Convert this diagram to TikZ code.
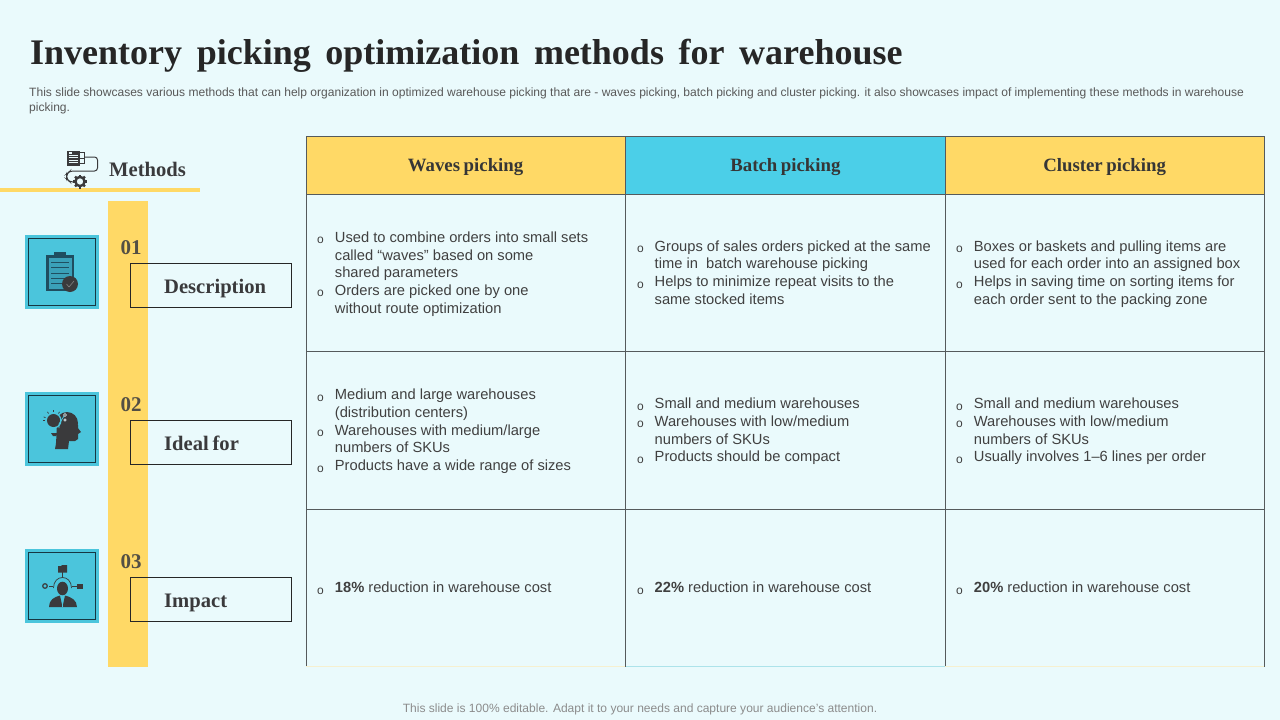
\documentclass[tikz,border=0pt]{standalone}
\usepackage{fontspec}
\setmainfont{Liberation Sans}
\newfontfamily\serifbf{Liberation Serif}
\definecolor{pagebg}{HTML}{EAFAFC}
\definecolor{baryellow}{HTML}{FFD966}
\definecolor{headcyan}{HTML}{4BCFE8}
\definecolor{iconcyan}{HTML}{4BC5DC}
\definecolor{gridgray}{HTML}{555A5C}
\definecolor{inktext}{HTML}{404040}
\definecolor{icondark}{HTML}{3A3A3C}
\definecolor{icondeep}{HTML}{1F4E60}
\definecolor{iconmid}{HTML}{3AA0B8}
\definecolor{edgeyellow}{HTML}{F6F0D0}
\definecolor{edgecyan}{HTML}{ADE3EA}
\newcommand{\bul}{\leavevmode\strut\llap{\raisebox{-1.5pt}{\fontsize{12}{12}\selectfont o}\hspace{11pt}}}
\newcommand{\wsp}[1]{\spaceskip=#1pt\relax}
\tikzset{
  cellbox/.style={draw=gridgray,line width=1pt,minimum width=319.2pt,inner sep=0pt,outer sep=0pt,anchor=north west},
  headtext/.style={font=\serifbf\bfseries\fontsize{18.8}{20}\selectfont,text=inktext!85!black},
  bodytext/.style={font=\fontsize{14.7}{17.7}\selectfont,text=inktext,align=left,anchor=west,xshift=28.7pt,yshift=-1.5pt,inner sep=0pt},
  iconbox/.style={fill=iconcyan,minimum size=74pt,inner sep=0pt,outer sep=0pt,anchor=north west},
  iconline/.style={draw=icondeep!70!black,line width=1pt,minimum size=66.5pt,inner sep=0pt,outer sep=0pt},
  lblbox/.style={draw=black!85,line width=1pt,minimum width=161.5pt,minimum height=44pt,anchor=north west,inner sep=0pt,outer sep=0pt},
  lbltext/.style={font=\serifbf\bfseries\fontsize{20.6}{22}\selectfont,text=icondark,anchor=base west,inner sep=0pt},
  numtext/.style={font=\serifbf\bfseries\fontsize{21}{22}\selectfont,text=inktext!90!baryellow},
}
\begin{document}
\begin{tikzpicture}[x=1pt,y=-1pt]
  \useasboundingbox[fill=pagebg] (0,0) rectangle (1280,720);
  % heading
  \node[anchor=base west,inner sep=0pt,text=black!85,font=\serifbf\bfseries\fontsize{36}{40}\selectfont] (title) at (30,64)
    {\wsp{14.6}Inventory picking optimization methods for warehouse};
  \node[anchor=north west,inner sep=0pt,align=left,text=black!65,font=\fontsize{12.05}{15}\selectfont] (intro) at (29,87.5)
    {This slide showcases various methods that can help organization in optimized warehouse picking that are - waves picking, batch picking and cluster picking. it also showcases impact of implementing these methods in warehouse\\picking.};
  \node[inner sep=0pt,text=black!45,font=\fontsize{12.03}{14}\selectfont] (foot) at (640,709.5)
    {This slide is 100\% editable. Adapt it to your needs and capture your audience's attention.};
  % left column
  \fill[baryellow] (0,188) rectangle (200,191.5);
  \fill[baryellow] (108,201) rectangle (148,667);
  \node[lbltext] (methods) at (109,176.5) {Methods};
  % methods icon
  \draw[icondark,line width=1pt,rounded corners=3pt] (84.5,157) -- (97.5,157) -- (97.5,171) -- (70,171) -- (66.7,174) -- (66.7,179) -- (70,182) -- (75,182);
  \fill[icondark] (66.7,150.5) rectangle (79.5,165.5);
  \foreach \y in {155,157.5,160,162.5} \draw[pagebg,line width=.6pt] (68.5,\y) -- (78,\y);
  \fill[pagebg] (68.5,152) rectangle (72,154);
  \draw[icondark,line width=1pt] (79.5,152.7) -- (84.5,152.7) -- (84.5,163.3) -- (79.5,163.3) (84.5,158) -- (79.5,158);
  \foreach \a in {0,45,...,315} \draw[icondark,line width=2.4pt] (80,181.5)+(\a:4.5) -- +(\a:7);
  \draw[icondark,line width=2.4pt] (80,181.5) circle (4.6);
  % rows of the left column
  \foreach \n/\lab/\t in {01/Description/235,02/Ideal for/392,03/Impact/549}{
    \node[iconbox] (icon\n) at (25,\t) {};
    \node[iconline] at (icon\n) {};
    \node[numtext] (num\n) at (131,\t+12.5) {\n};
    \node[lblbox] (lbl\n) at (130.3,\t+28.3) {};
    \node[lbltext] (txt\n) at (164,\t+58) {\wsp{3.8}\lab};
  }
  % clipboard icon
  \fill[icondeep] (46,255) rectangle (74,291);
  \fill[icondeep] (54,252) rectangle (66,256);
  \fill[iconmid] (48.5,258) rectangle (71.5,288.5);
  \foreach \y in {262,267,273,278,283} \draw[icondeep,line width=.9pt] (51,\y) -- (69,\y);
  \fill[icondark] (70,284) circle (8);
  \draw[black!50,line width=.6pt] (66.5,284) -- (69,287) -- (74,281);
  % head icon
  \fill[icondark] (67,423) circle (11);
  \fill[icondark] (55,449) .. controls (57,440) and (56,434) .. (57,425) -- (70,415) -- (78,425) -- (78,428) -- (81,432) -- (78,434) -- (78,439) -- (75,441) -- (69,441) -- (68,449) -- cycle;
  \draw[iconcyan,line width=1.5pt] (53.5,420.5) circle (7.3);
  \fill[icondark] (53.5,420.5) circle (6.5);
  \fill[icondark] (51,433) -- (58,433) -- (56,436) -- (53,436) -- cycle;
  \foreach \a in {-160,-125,-90,-55,180} \draw[icondark,line width=.7pt] (53.5,420.5)+(\a:8.5) -- +(\a:10.5);
  \draw[iconcyan,line width=.8pt] (59,428) -- (59,424) -- (64,416);
  \draw[pagebg,line width=.6pt] (65,415) circle (1.5) (65,420) circle (1.2);
  % person icon
  \fill[icondark] (62.5,588.5) ellipse (5.5 and 6.8);
  \fill[icondark] (49,607) .. controls (49,600) and (54,597) .. (60,595.5) -- (62.5,607) -- (65,595.5) .. controls (71,597) and (77,600) .. (77,607) -- cycle;
  \draw[iconcyan,line width=.8pt] (62.5,597) -- (62.5,607);
  \draw[icondark,line width=.7pt] (53.5,588) .. controls (53.5,574) and (71.5,574) .. (71.5,588);
  \draw[icondark,line width=.7pt] (62.5,577) -- (62.5,572) (53,586) -- (49,586) (72,586) -- (77,586);
  \fill[icondark] (58,566) -- (61,566) -- (62,565) -- (67,565) -- (67,572.5) -- (58,572.5) -- cycle;
  \fill[icondark] (77,583.5) rectangle (83,588.5);
  \draw[icondark,line width=1.2pt] (45,586) circle (2.3);
  % table
  \foreach \c/\x/\hd/\fc in {1/306/Waves picking/baryellow,2/625.8/Batch picking/headcyan,3/945/Cluster picking/baryellow}{
    \node[cellbox,fill=\fc,minimum height=58pt] (h\c) at (\x,136) {};
    \node[headtext] (ht\c) at ([yshift=-2.2pt]h\c.center) {\wsp{3.6}\hd};
    \node[cellbox,minimum height=157.5pt] (a\c) at (\x,194) {};
    \node[cellbox,minimum height=157.5pt] (b\c) at (\x,351.5) {};
    \node[cellbox,minimum height=157.5pt] (d\c) at (\x,509) {};
  }
  \draw[edgeyellow,line width=1.8pt] (d1.south west) -- (d1.south east);
  \draw[edgecyan,line width=1.8pt] (d2.south west) -- (d2.south east);
  \draw[edgeyellow,line width=1.8pt] (d3.south west) -- (d3.south east);
  % table text
  \node[bodytext] (ta1) at (a1.west) {\bul Used to combine orders into small sets\\called “waves” based on some\\shared parameters\\\bul Orders are picked one by one\\without route optimization\strut};
  \node[bodytext] (ta2) at (a2.west) {\bul Groups of sales orders picked at the same\\time in\ \ batch warehouse picking\\\bul Helps to minimize repeat visits to the\\same stocked items\strut};
  \node[bodytext] (ta3) at (a3.west) {\bul Boxes or baskets and pulling items are\\used for each order into an assigned box\\\bul Helps in saving time on sorting items for\\each order sent to the packing zone\strut};
  \node[bodytext] (tb1) at (b1.west) {\bul Medium and large warehouses\\(distribution centers)\\\bul Warehouses with medium/large\\numbers of SKUs\\\bul Products have a wide range of sizes\strut};
  \node[bodytext] (tb2) at (b2.west) {\bul Small and medium warehouses\\\bul Warehouses with low/medium\\numbers of SKUs\\\bul Products should be compact\strut};
  \node[bodytext] (tb3) at (b3.west) {\bul Small and medium warehouses\\\bul Warehouses with low/medium\\numbers of SKUs\\\bul Usually involves 1–6 lines per order\strut};
  \node[bodytext] (td1) at (d1.west) {\bul\textbf{18\%} reduction in warehouse cost};
  \node[bodytext] (td2) at (d2.west) {\bul\textbf{22\%} reduction in warehouse cost};
  \node[bodytext] (td3) at (d3.west) {\bul\textbf{20\%} reduction in warehouse cost};
\end{tikzpicture}
\end{document}
